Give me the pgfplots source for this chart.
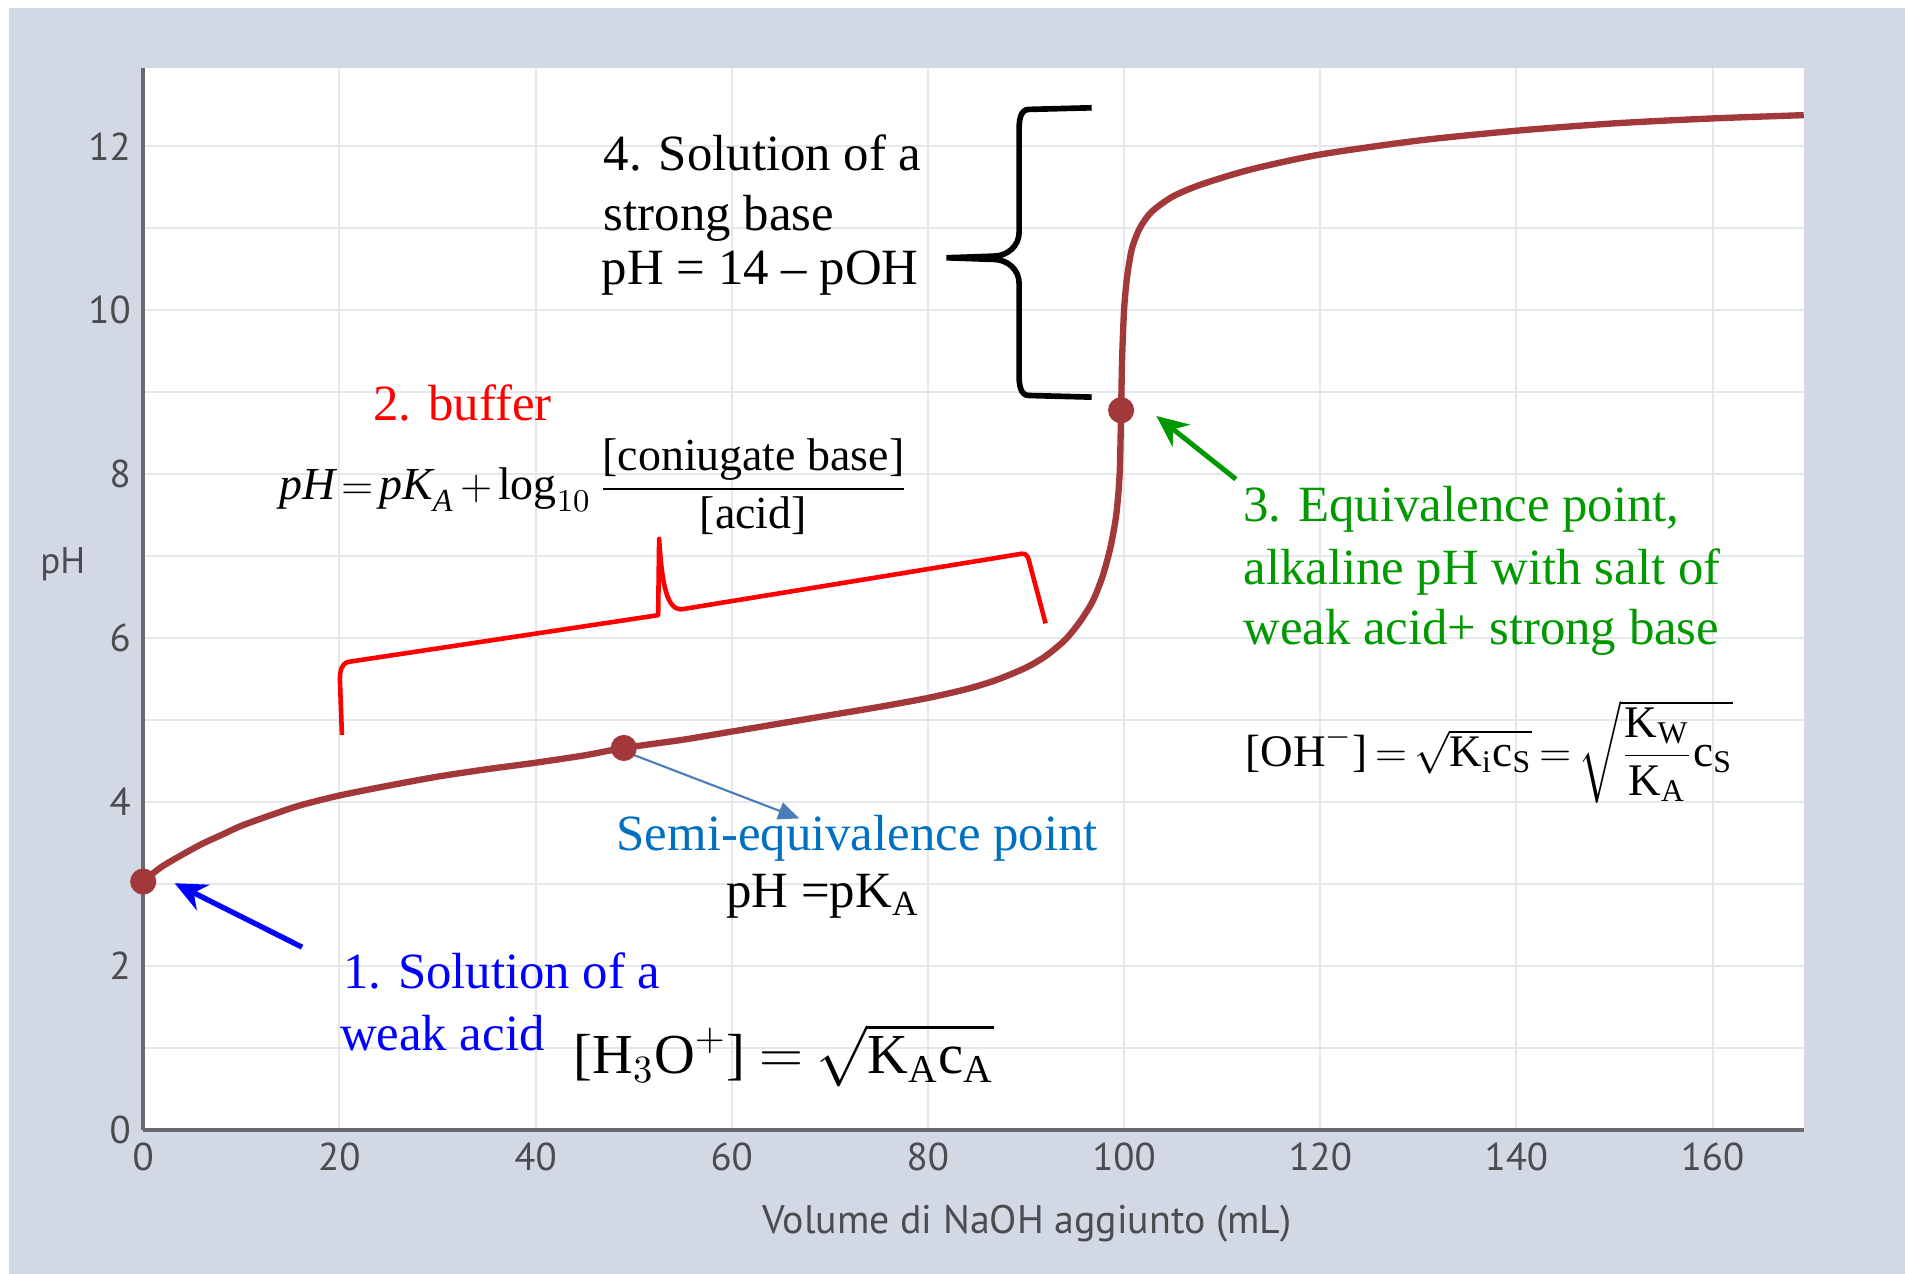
\documentclass[border=0pt]{standalone}
\usepackage{amsmath}
\usepackage{fontspec}
\setmainfont{Liberation Serif}
\newfontfamily\axfont{PT Sans}
\usepackage{pgfplots}
\pgfplotsset{compat=1.18}
\usetikzlibrary{arrows.meta}

\definecolor{panel}{RGB}{210,217,228}
\definecolor{curve}{RGB}{163,56,58}
\definecolor{gridc}{RGB}{228,231,236}
\definecolor{axisc}{RGB}{105,105,110}
\definecolor{tickc}{RGB}{75,75,80}
\definecolor{eqgreen}{RGB}{0,153,0}
\definecolor{semiblue}{RGB}{0,112,192}
\definecolor{arrowblue}{RGB}{74,126,187}

\newcommand{\af}{\fontsize{14.4}{17}\selectfont}
\newcommand{\tight}{\thickmuskip=2.5mu\medmuskip=2.5mu}

\begin{document}
\begin{tikzpicture}
% page and grey panel
\path (-40.6pt,-40.8pt) rectangle (499.4pt,320.3pt);
\fill[panel] (-38.1pt,-40.8pt) rectangle (499.4pt,318pt);

\begin{axis}[
    at={(0,0)}, anchor=south west,
    scale only axis, width=470.7pt, height=300.9pt,
    xmin=0, xmax=169.3, ymin=0, ymax=12.95,
    axis background/.style={fill=white},
    axis x line*=bottom, axis y line*=left,
    axis line style={draw=axisc, line width=1pt, -},
    xtick={0,20,...,160}, ytick={0,2,...,12}, minor ytick={1,3,...,11},
    grid=both,
    major grid style={gridc, line width=0.6pt},
    minor grid style={gridc, line width=0.6pt},
    major tick length=0pt, minor tick length=0pt,
    tick label style={font=\axfont\fontsize{11}{13}\selectfont, text=tickc},
    /pgf/number format/assume math mode=true,
    clip=false,
]

% titration curve
\addplot[curve, line width=1.8pt, smooth, tension=0.45] coordinates {
(0,3.03) (1,3.13) (2,3.22) (4,3.36) (6,3.49) (8,3.60) (10,3.71) (13,3.84)
(16,3.96) (20,4.08) (25,4.20) (30,4.31) (35,4.40) (40,4.48) (45,4.57)
(49,4.66) (55,4.76) (60,4.86) (65,4.96) (70,5.06) (75,5.16) (80,5.27)
(84,5.38) (87,5.49) (90,5.64) (92,5.78) (94,5.98) (95.5,6.2) (96.8,6.45)
(97.8,6.75) (98.6,7.1) (99.2,7.5) (99.55,8.0) (99.7,8.78) (99.8,9.4)
(100,10.0) (100.3,10.4) (100.8,10.75) (101.6,11.0) (102.8,11.2)
(105,11.39) (108,11.54) (113,11.72) (120,11.90) (130,12.07) (140,12.19)
(150,12.28) (160,12.34) (169.3,12.38)
};

\draw[arrowblue, line width=0.6pt, -{Triangle[length=6pt,width=5pt]}]
  (axis cs:48.8,4.63) -- (axis cs:66.9,3.8);

% marked points
\addplot[only marks, mark=*, mark size=3.5pt, mark options={fill=curve, draw=curve}]
  coordinates {(0,3.03) (49,4.66) (99.7,8.78)};

% axis titles
\node[font=\axfont\fontsize{10.5}{12}\selectfont, text=tickc] at (axis cs:-8.2,6.9) {pH};
\node[font=\axfont\fontsize{11.3}{13}\selectfont, text=tickc] at (axis cs:90.1,-1.14) {Volume di NaOH aggiunto (mL)};

% 4. strong base
\node[anchor=base west, inner sep=0pt, font=\af] at (axis cs:46.9,11.71) {4. Solution of a};
\node[anchor=base west, inner sep=0pt, font=\af] at (axis cs:46.9,10.97) {strong base};
\node[anchor=base west, inner sep=0pt, font=\af] at (axis cs:46.7,10.31) {pH = 14 – pOH};
\draw[black, line width=1.6pt]
  (axis cs:96.7,12.47) -- (axis cs:90.3,12.45) to[out=180,in=90] (axis cs:89.3,12.2)
  -- (axis cs:89.3,10.95) to[out=-90,in=0] (axis cs:86.7,10.66) -- (axis cs:81.9,10.64)
  -- (axis cs:86.7,10.62) to[out=0,in=90] (axis cs:89.3,10.33)
  -- (axis cs:89.3,9.2) to[out=-90,in=180] (axis cs:90.3,8.96) -- (axis cs:96.7,8.94);

% 2. buffer
\node[anchor=base west, inner sep=0pt, font=\af, text=red] at (axis cs:23.4,8.66) {2. buffer};
\node[anchor=base west, inner sep=0pt, font=\fontsize{13}{15}\selectfont] at (axis cs:13.8,7.69)
  {$\tight\textit{pH} = \textit{pK}_{\textit{A}} + \text{log}_{10}\,\dfrac{\text{[coniugate base]}}{\text{[acid]}}$};
\draw[red, line width=1.3pt, line join=round]
  (axis cs:20.26,4.82) -- (axis cs:20.05,5.5) to[out=90,in=195] (axis cs:20.9,5.71)
  -- (axis cs:52.5,6.28) -- (axis cs:52.6,7.21)
  .. controls (axis cs:52.9,6.6) and (axis cs:53.5,6.36) .. (axis cs:54.8,6.35)
  -- (axis cs:89.6,7.03) to[out=10,in=100] (axis cs:90.4,6.9) -- (axis cs:92.0,6.18);

% 3. equivalence point
\node[anchor=base west, inner sep=0pt, font=\af, text=eqgreen] at (axis cs:112.1,7.42) {3. Equivalence point,};
\node[anchor=base west, inner sep=0pt, font=\af, text=eqgreen] at (axis cs:112.1,6.66) {alkaline pH with salt of};
\node[anchor=base west, inner sep=0pt, font=\af, text=eqgreen] at (axis cs:112.1,5.92) {weak acid+ strong base};
\node[anchor=base west, inner sep=0pt, font=\fontsize{12.8}{15}\selectfont] at (axis cs:112.3,4.44)
  {$\thickmuskip=3mu\text{[OH}^{-}\text{]} = \sqrt{\text{K}_{\text{i}}\text{c}_{\text{S}}} = \sqrt{\dfrac{\text{K}_{\text{W}}}{\text{K}_{\text{A}}}\text{c}_{\text{S}}}$};
\draw[eqgreen, line width=1.4pt, -{Stealth[length=9pt,width=8pt]}]
  (axis cs:111.4,7.94) -- (axis cs:103.3,8.71);

% semi-equivalence
\node[anchor=base west, inner sep=0pt, font=\af, text=semiblue] at (axis cs:48.2,3.41) {Semi-equivalence point};
\node[anchor=base west, inner sep=0pt, font=\af] at (axis cs:59.4,2.71) {pH =pK$_{\text{A}}$};

% 1. weak acid
\node[anchor=base west, inner sep=0pt, font=\af, text=blue] at (axis cs:20.3,1.72) {1. Solution of a};
\node[anchor=base west, inner sep=0pt, font=\af, text=blue] at (axis cs:20.0,0.97) {weak acid};
\node[anchor=base west, inner sep=0pt, font=\fontsize{16}{19}\selectfont] at (axis cs:43.8,0.69)
  {$\thickmuskip=4mu\text{[H}_{3}\text{O}^{+}\text{]} = \sqrt{\text{K}_{\text{A}}\text{c}_{\text{A}}}$};
\draw[blue, line width=1.5pt, -{Stealth[length=9pt,width=8pt]}]
  (axis cs:16.2,2.23) -- (axis cs:3.2,3.01);

\end{axis}
\end{tikzpicture}
\end{document}
